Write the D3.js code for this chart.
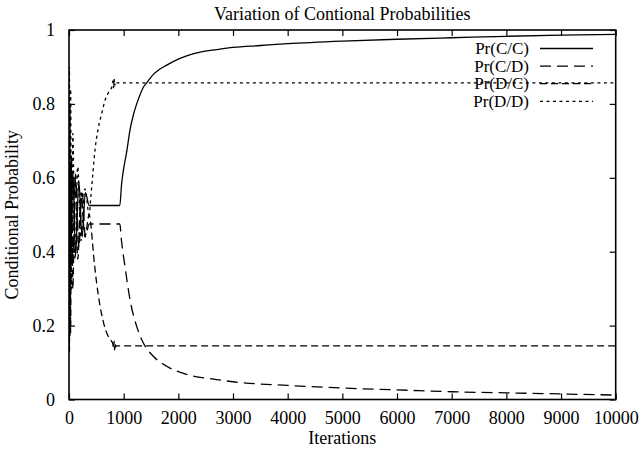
<!DOCTYPE html>
<html>
<head>
<meta charset="utf-8">
<script src="https://cdn.jsdelivr.net/npm/d3@7"></script>
<style>
  body { margin: 0; background: #fff; }
  svg text { font-family: "Times New Roman", "Liberation Serif", Times, serif; fill: #000; }
</style>
</head>
<body>
<div id="chart"></div>
<script>
// [iteration, probability]
const prCC = [
  [0, 0.50], [10, 0.63], [30, 0.36], [70, 0.62], [120, 0.39], [180, 0.59], [240, 0.44],
  [300, 0.56], [370, 0.525], [930, 0.525], [960, 0.58], [1000, 0.625], [1055, 0.67],
  [1116, 0.73], [1177, 0.77], [1238, 0.80], [1300, 0.825], [1360, 0.845], [1421, 0.857],
  [1543, 0.88], [1650, 0.893], [1787, 0.905], [2000, 0.921], [2153, 0.93], [2400, 0.94],
  [2702, 0.947], [3000, 0.953], [3500, 0.958], [4000, 0.963], [5000, 0.97], [6000, 0.975],
  [7000, 0.979], [8000, 0.983], [9000, 0.986], [10000, 0.988]
];
const prCD = [
  [0, 0.50], [10, 0.37], [30, 0.64], [70, 0.38], [120, 0.61], [180, 0.41], [240, 0.56],
  [300, 0.44], [370, 0.475], [930, 0.475], [960, 0.43], [1024, 0.36], [1116, 0.27],
  [1238, 0.198], [1360, 0.153], [1543, 0.117], [1787, 0.09], [2153, 0.068], [2702, 0.054],
  [3000, 0.048], [4000, 0.038], [5000, 0.031], [6000, 0.026], [7000, 0.021], [8000, 0.018],
  [9000, 0.015], [10000, 0.012]
];
const prDC = [
  [0, 0.70], [8, 0.13], [18, 0.80], [30, 0.18], [45, 0.66], [70, 0.30], [110, 0.60],
  [160, 0.38], [220, 0.56], [290, 0.44], [370, 0.50], [415, 0.45], [450, 0.39], [506, 0.315],
  [560, 0.26], [628, 0.21], [690, 0.18], [750, 0.163], [800, 0.152], [815, 0.138],
  [825, 0.158], [835, 0.134], [845, 0.152], [855, 0.143], [870, 0.145], [10000, 0.145]
];
const prDD = [
  [0, 0.30], [8, 0.90], [18, 0.17], [30, 0.84], [45, 0.30], [70, 0.72], [110, 0.38],
  [160, 0.63], [220, 0.43], [290, 0.57], [370, 0.50], [400, 0.55], [430, 0.60], [475, 0.675],
  [530, 0.73], [600, 0.775], [660, 0.81], [720, 0.83], [780, 0.845], [805, 0.862],
  [815, 0.842], [825, 0.868], [835, 0.848], [848, 0.86], [870, 0.857], [10000, 0.857]
];

const seriesNames = ["Pr(C/C)", "Pr(C/D)", "Pr(D/C)", "Pr(D/D)"];
const seriesData = [prCC, prCD, prDC, prDD];
const dashes = [null, "11,6", "7,4", "3,3.5"];

const xTicks = d3.range(0, 10001, 1000);
const yTicks = [0, 0.2, 0.4, 0.6, 0.8, 1];

const W = 643, H = 454;
const margin = { top: 30, right: 27.3, bottom: 54.5, left: 69 };
const width = W - margin.left - margin.right;
const height = H - margin.top - margin.bottom;

const svg = d3.select("#chart").append("svg")
  .attr("width", W)
  .attr("height", H)
  .attr("font-family", "'Times New Roman', 'Liberation Serif', serif");

const g = svg.append("g")
  .attr("transform", `translate(${margin.left},${margin.top})`);

const x = d3.scaleLinear().domain([0, 10000]).range([0, width]);
const y = d3.scaleLinear().domain([0, 1]).range([height, 0]);

// clip to plot area
g.append("clipPath").attr("id", "clip")
  .append("rect").attr("width", width).attr("height", height);

// Lines
const line = d3.line()
  .x(d => x(d[0]))
  .y(d => y(d[1]))
  .curve(d3.curveMonotoneX);

const lines = g.append("g").attr("clip-path", "url(#clip)");
seriesData.forEach((data, i) => {
  lines.append("path")
    .datum(data)
    .attr("fill", "none")
    .attr("stroke", "#000")
    .attr("stroke-width", 1.3)
    .attr("stroke-dasharray", dashes[i])
    .attr("d", line);
});

// Axes with inward ticks on all four sides
const tickLen = 6;
const fmtY = d => d === 0 ? "0" : d === 1 ? "1" : d3.format(".1f")(d);

const axBottom = g.append("g")
  .attr("transform", `translate(0,${height})`)
  .call(d3.axisBottom(x).tickValues(xTicks).tickSize(-tickLen).tickPadding(12).tickFormat(d3.format("d")));
const axTop = g.append("g")
  .call(d3.axisTop(x).tickValues(xTicks).tickSize(-tickLen).tickFormat(""));
const axLeft = g.append("g")
  .call(d3.axisLeft(y).tickValues(yTicks).tickSize(-tickLen).tickPadding(14).tickFormat(fmtY));
const axRight = g.append("g")
  .attr("transform", `translate(${width},0)`)
  .call(d3.axisRight(y).tickValues(yTicks).tickSize(-tickLen).tickFormat(""));

[axBottom, axTop, axLeft, axRight].forEach(ax => {
  ax.attr("font-family", null);
  ax.select(".domain").remove();
  ax.selectAll(".tick line").attr("stroke", "#000").attr("stroke-width", 1.2);
  ax.selectAll("text").style("font-size", "18px").attr("fill", "#000");
});

// Frame
g.append("rect")
  .attr("width", width)
  .attr("height", height)
  .attr("fill", "none")
  .attr("stroke", "#000")
  .attr("stroke-width", 1.6);

// Legend
const legend = g.append("g");
seriesNames.forEach((name, i) => {
  const ly = 18.5 + i * 17.6;
  legend.append("text")
    .attr("x", 460)
    .attr("y", ly)
    .attr("dy", "0.33em")
    .attr("text-anchor", "end")
    .style("font-size", "17px")
    .text(name);
  legend.append("line")
    .attr("x1", 471).attr("x2", 524)
    .attr("y1", ly).attr("y2", ly)
    .attr("stroke", "#000")
    .attr("stroke-width", 1.3)
    .attr("stroke-dasharray", dashes[i]);
});

// Title and axis labels
svg.append("text")
  .attr("x", margin.left + width / 2)
  .attr("y", 20)
  .attr("text-anchor", "middle")
  .style("font-size", "18px")
  .text("Variation of Contional Probabilities");

svg.append("text")
  .attr("x", margin.left + width / 2)
  .attr("y", 444)
  .attr("text-anchor", "middle")
  .style("font-size", "18px")
  .text("Iterations");

svg.append("text")
  .attr("transform", "rotate(-90)")
  .attr("x", -(margin.top + height / 2))
  .attr("y", 18)
  .attr("text-anchor", "middle")
  .style("font-size", "18px")
  .text("Conditional Probability");
</script>
</body>
</html>
